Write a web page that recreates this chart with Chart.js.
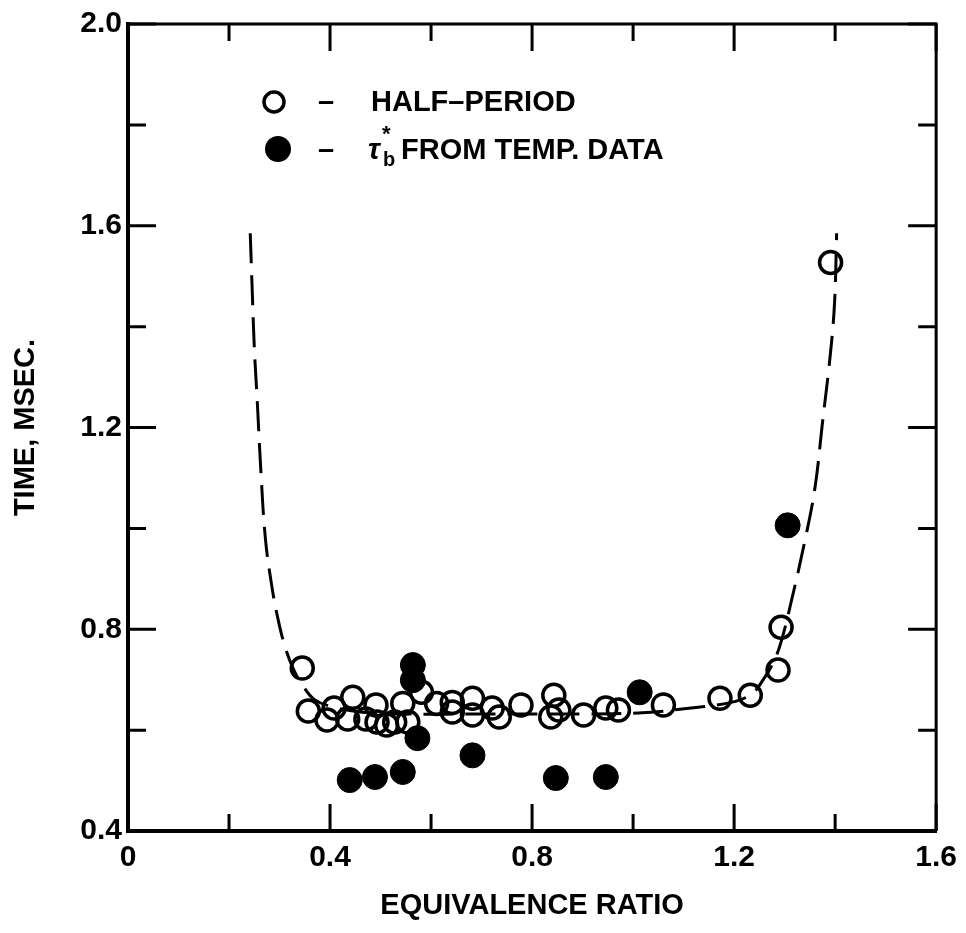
<!DOCTYPE html>
<html>
<head>
<meta charset="utf-8">
<script src="https://cdn.jsdelivr.net/npm/chart.js@4.4.1/dist/chart.umd.min.js"></script>
<style>
  html, body { margin: 0; padding: 0; background: #fff; }
  #wrap { width: 966px; height: 933px; }
</style>
</head>
<body>
<div id="wrap"><canvas id="chart" width="966" height="933"></canvas></div>
<script>
// half-period (open circles)
var halfPeriodX = [0.345, 0.357, 0.394, 0.408, 0.445, 0.435, 0.471, 0.491, 0.493, 0.512,
  0.528, 0.544, 0.554, 0.581, 0.611, 0.642, 0.642, 0.682, 0.682, 0.721, 0.735, 0.778,
  0.843, 0.837, 0.853, 0.902, 0.946, 0.971, 1.060, 1.172, 1.232, 1.287, 1.293, 1.391];
var halfPeriodY = [0.723, 0.638, 0.620, 0.644, 0.665, 0.622, 0.622, 0.650, 0.616, 0.610,
  0.616, 0.653, 0.616, 0.675, 0.653, 0.636, 0.655, 0.663, 0.630, 0.644, 0.626, 0.650,
  0.669, 0.626, 0.640, 0.630, 0.644, 0.640, 0.650, 0.663, 0.669, 0.719, 0.804, 1.527];

// tau_b* from temperature data (filled circles)
var tauX = [0.564, 0.564, 0.573, 0.439, 0.489, 0.544, 0.682, 0.847, 0.946, 1.013, 1.306];
var tauY = [0.729, 0.699, 0.584, 0.501, 0.507, 0.517, 0.550, 0.505, 0.507, 0.675, 1.006];

// hand drawn dashed curve
var curveX = [0.242, 0.246, 0.250, 0.256, 0.263, 0.272, 0.284, 0.297, 0.311, 0.328, 0.345,
  0.370, 0.410, 0.460, 0.550, 0.700, 0.850, 1.010, 1.115, 1.194, 1.235, 1.257, 1.278,
  1.293, 1.312, 1.340, 1.360, 1.375, 1.391, 1.399, 1.403];
var curveY = [1.585, 1.470, 1.360, 1.250, 1.115, 0.980, 0.890, 0.820, 0.765, 0.720, 0.690,
  0.660, 0.645, 0.636, 0.632, 0.632, 0.632, 0.634, 0.644, 0.655, 0.672, 0.699, 0.735,
  0.775, 0.850, 0.975, 1.080, 1.210, 1.350, 1.450, 1.585];

// labelled ticks
var xTickValues = [0, 0.4, 0.8, 1.2, 1.6];
var xTickLabels = ['0', '0.4', '0.8', '1.2', '1.6'];
var yTickValues = [0.4, 0.8, 1.2, 1.6, 2.0];
var yTickLabels = ['0.4', '0.8', '1.2', '1.6', '2.0'];

var FONT = '"Liberation Sans", Arial, Helvetica, sans-serif';

var toPoints = function(xs, ys) {
  return xs.map(function(x, i) { return {x: x, y: ys[i]}; });
};

// find the label for a tick value, '' for the minor ones
var labelFor = function(v, values, labels) {
  for (var i = 0; i < values.length; i++) {
    if (Math.abs(values[i] - v) < 1e-6) return labels[i];
  }
  return '';
};

// inward ticks on all four sides plus the top/right frame
var frameTicks = {
  id: 'frameTicks',
  afterDatasetsDraw: function(chart) {
    var ctx = chart.ctx;
    var a = chart.chartArea;
    var xs = chart.scales.x, ys = chart.scales.y;
    ctx.save();
    ctx.strokeStyle = '#000';
    ctx.lineWidth = 3;
    ctx.beginPath();
    ctx.moveTo(a.left, a.top);
    ctx.lineTo(a.right, a.top);
    ctx.lineTo(a.right, a.bottom);
    ctx.stroke();

    xs.ticks.forEach(function(t) {
      var p = xs.getPixelForValue(t.value);
      var len = labelFor(t.value, xTickValues, xTickLabels) ? 27 : 17;
      ctx.beginPath();
      ctx.moveTo(p, a.bottom); ctx.lineTo(p, a.bottom - len);
      ctx.moveTo(p, a.top); ctx.lineTo(p, a.top + len);
      ctx.stroke();
    });
    ys.ticks.forEach(function(t) {
      var p = ys.getPixelForValue(t.value);
      var len = labelFor(t.value, yTickValues, yTickLabels) ? 28 : 18;
      ctx.beginPath();
      ctx.moveTo(a.left, p); ctx.lineTo(a.left + len, p);
      ctx.moveTo(a.right, p); ctx.lineTo(a.right - len, p);
      ctx.stroke();
    });
    ctx.restore();
  }
};

// key in the upper left of the plot
var keyBox = {
  id: 'keyBox',
  afterDraw: function(chart) {
    var ctx = chart.ctx;
    ctx.save();
    ctx.fillStyle = '#000';
    ctx.strokeStyle = '#000';
    ctx.textBaseline = 'middle';
    ctx.textAlign = 'left';

    // open circle row
    ctx.lineWidth = 3.5;
    ctx.beginPath();
    ctx.arc(274, 102, 10, 0, Math.PI * 2);
    ctx.stroke();
    ctx.font = 'bold 29px ' + FONT;
    ctx.fillText('\u2013', 318, 103);
    ctx.fillText('HALF\u2013PERIOD', 371, 103);

    // filled circle row
    ctx.beginPath();
    ctx.arc(278, 149, 13, 0, Math.PI * 2);
    ctx.fill();
    ctx.fillText('\u2013', 318, 151);
    ctx.font = 'italic bold 29px ' + FONT;
    ctx.fillText('\u03c4', 368, 151);
    ctx.font = 'bold 22px ' + FONT;
    ctx.fillText('*', 382, 135);
    ctx.font = 'bold 20px ' + FONT;
    ctx.fillText('b', 383, 160);
    ctx.font = 'bold 29px ' + FONT;
    ctx.fillText('FROM TEMP. DATA', 401, 151);
    ctx.restore();
  }
};

var data = {
  datasets: [
    {
      label: 'curve',
      type: 'line',
      data: toPoints(curveX, curveY),
      borderColor: '#000',
      borderWidth: 3,
      borderDash: [30, 12],
      pointRadius: 0,
      fill: false,
      tension: 0.4,
      order: 3
    },
    {
      label: 'HALF-PERIOD',
      data: toPoints(halfPeriodX, halfPeriodY),
      pointStyle: 'circle',
      pointRadius: 11,
      pointBorderWidth: 3.5,
      pointBorderColor: '#000',
      pointBackgroundColor: 'rgba(0,0,0,0)',
      showLine: false,
      order: 2
    },
    {
      label: 'tau_b* FROM TEMP. DATA',
      data: toPoints(tauX, tauY),
      pointStyle: 'circle',
      pointRadius: 12.5,
      pointBorderWidth: 1,
      pointBorderColor: '#000',
      pointBackgroundColor: '#000',
      showLine: false,
      order: 1
    }
  ]
};

var options = {
  responsive: false,
  animation: false,
  devicePixelRatio: 1,
  layout: { padding: { left: 0, right: 26, top: 22, bottom: 0 } },
  plugins: { legend: { display: false }, tooltip: { enabled: false } },
  scales: {
    x: {
      type: 'linear',
      min: 0, max: 1.6,
      afterFit: function(s) { s.height = 102; },
      grid: { drawOnChartArea: false, drawTicks: false },
      border: { display: true, color: '#000', width: 4 },
      ticks: {
        stepSize: 0.2,
        autoSkip: false,
        maxRotation: 0,
        padding: 9,
        color: '#000',
        font: { family: FONT, size: 30, weight: 'bold' },
        callback: function(v) { return labelFor(v, xTickValues, xTickLabels); }
      },
      title: {
        display: true,
        text: 'EQUIVALENCE RATIO',
        color: '#000',
        font: { family: FONT, size: 29, weight: 'bold' },
        padding: { top: 0, bottom: 10 }
      }
    },
    y: {
      type: 'linear',
      min: 0.4, max: 2.0,
      afterFit: function(s) { s.width = 128; },
      grid: { drawOnChartArea: false, drawTicks: false },
      border: { display: true, color: '#000', width: 4 },
      ticks: {
        stepSize: 0.2,
        autoSkip: false,
        padding: 6,
        color: '#000',
        font: { family: FONT, size: 30, weight: 'bold' },
        callback: function(v) { return labelFor(v, yTickValues, yTickLabels); }
      },
      title: {
        display: true,
        text: 'TIME, MSEC.',
        color: '#000',
        font: { family: FONT, size: 29, weight: 'bold' },
        padding: { top: 9, bottom: 0 }
      }
    }
  }
};

var ctx = document.getElementById('chart').getContext('2d');
var chart = new Chart(ctx, {
  type: 'scatter',
  data: data,
  options: options,
  plugins: [frameTicks, keyBox]
});
</script>
</body>
</html>
